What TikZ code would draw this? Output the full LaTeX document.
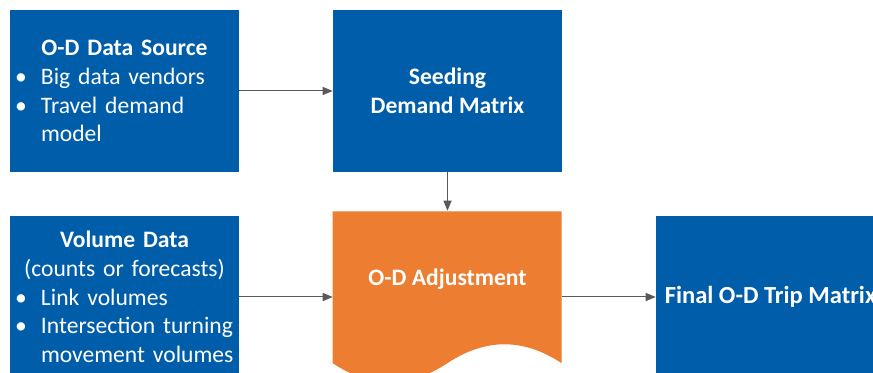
\documentclass[tikz,border=0pt]{standalone}
\usepackage{fontspec}
\setmainfont{Carlito}
\usetikzlibrary{arrows.meta}

\definecolor{boxblue}{HTML}{005DA9}
\definecolor{adjorange}{HTML}{ED7D31}
\definecolor{flowgray}{HTML}{595959}

\pgfdeclarelayer{background}
\pgfsetlayers{background,main}

\newcommand{\btitle}[1]{\makebox[164.25pt]{\textbf{#1}}}
\newcommand{\bitem}[1]{\makebox[19.5pt][l]{\textbullet}#1}
\newcommand{\bcont}[1]{\hspace*{19.5pt}#1}

\begin{document}
\begin{tikzpicture}[x=0.75pt,y=0.75pt,node distance=242.25pt,
block/.style={
rectangle,
fill=boxblue,
text=white,
minimum width=171.75pt,
minimum height=121.5pt,
font=\fontsize{17.7}{21.6}\selectfont
},
listblock/.style={
block,
text width=164.25pt,
inner xsep=3.75pt,
align=left
},
docblock/.style={
rectangle,
text=white,
minimum width=171.75pt,
inner ysep=0pt,
text height=56pt,
text depth=73pt,
font=\fontsize{17.7}{21.6}\selectfont
},
flow/.style={
draw=flowgray,
line width=0.75pt,
-{Triangle[length=7.5pt,width=6pt]}
}]
\useasboundingbox (0,0) rectangle (873,373);
\clip (0,0) rectangle (873,373);
\node (source) [listblock] at (124.5,282) {\btitle{O-D Data Source}\\
\bitem{Big data vendors}\\
\bitem{Travel demand}\\
\bcont{model}};
\node (seeding) [block,align=center,right of=source] {\textbf{Seeding}\\\textbf{Demand Matrix}};
\node (volume) [listblock,below of=source,node distance=154.5pt] {\btitle{Volume Data}\\
\makebox[164.25pt]{(counts or forecasts)}\\
\bitem{Link volumes}\\
\bitem{Intersection turning}\\
\bcont{movement volumes}};
\node (adjust) [docblock,right of=volume] {\textbf{O-D Adjustment}};
\node (final) [block,right of=adjust,font=\fontsize{18.4}{22}\selectfont] {\textbf{Final O-D Trip Matrix}};

% wavy bottom of the adjustment box
\begin{pgfonlayer}{background}
\fill[adjorange,shift={(adjust.south west)}]
(0,172) -- (229,172) -- (229,20)
.. controls (190.8,45.3) and (152.7,45.3) .. (114.5,20)
.. controls (76.3,-5.3) and (38.2,-5.3) .. (0,20) -- cycle;
\end{pgfonlayer}

\draw[flow] (source) -- (seeding);
\draw[flow] (seeding) -- (adjust);
\draw[flow] (volume) -- (adjust);
\draw[flow] (adjust) -- (final);
\end{tikzpicture}
\end{document}
